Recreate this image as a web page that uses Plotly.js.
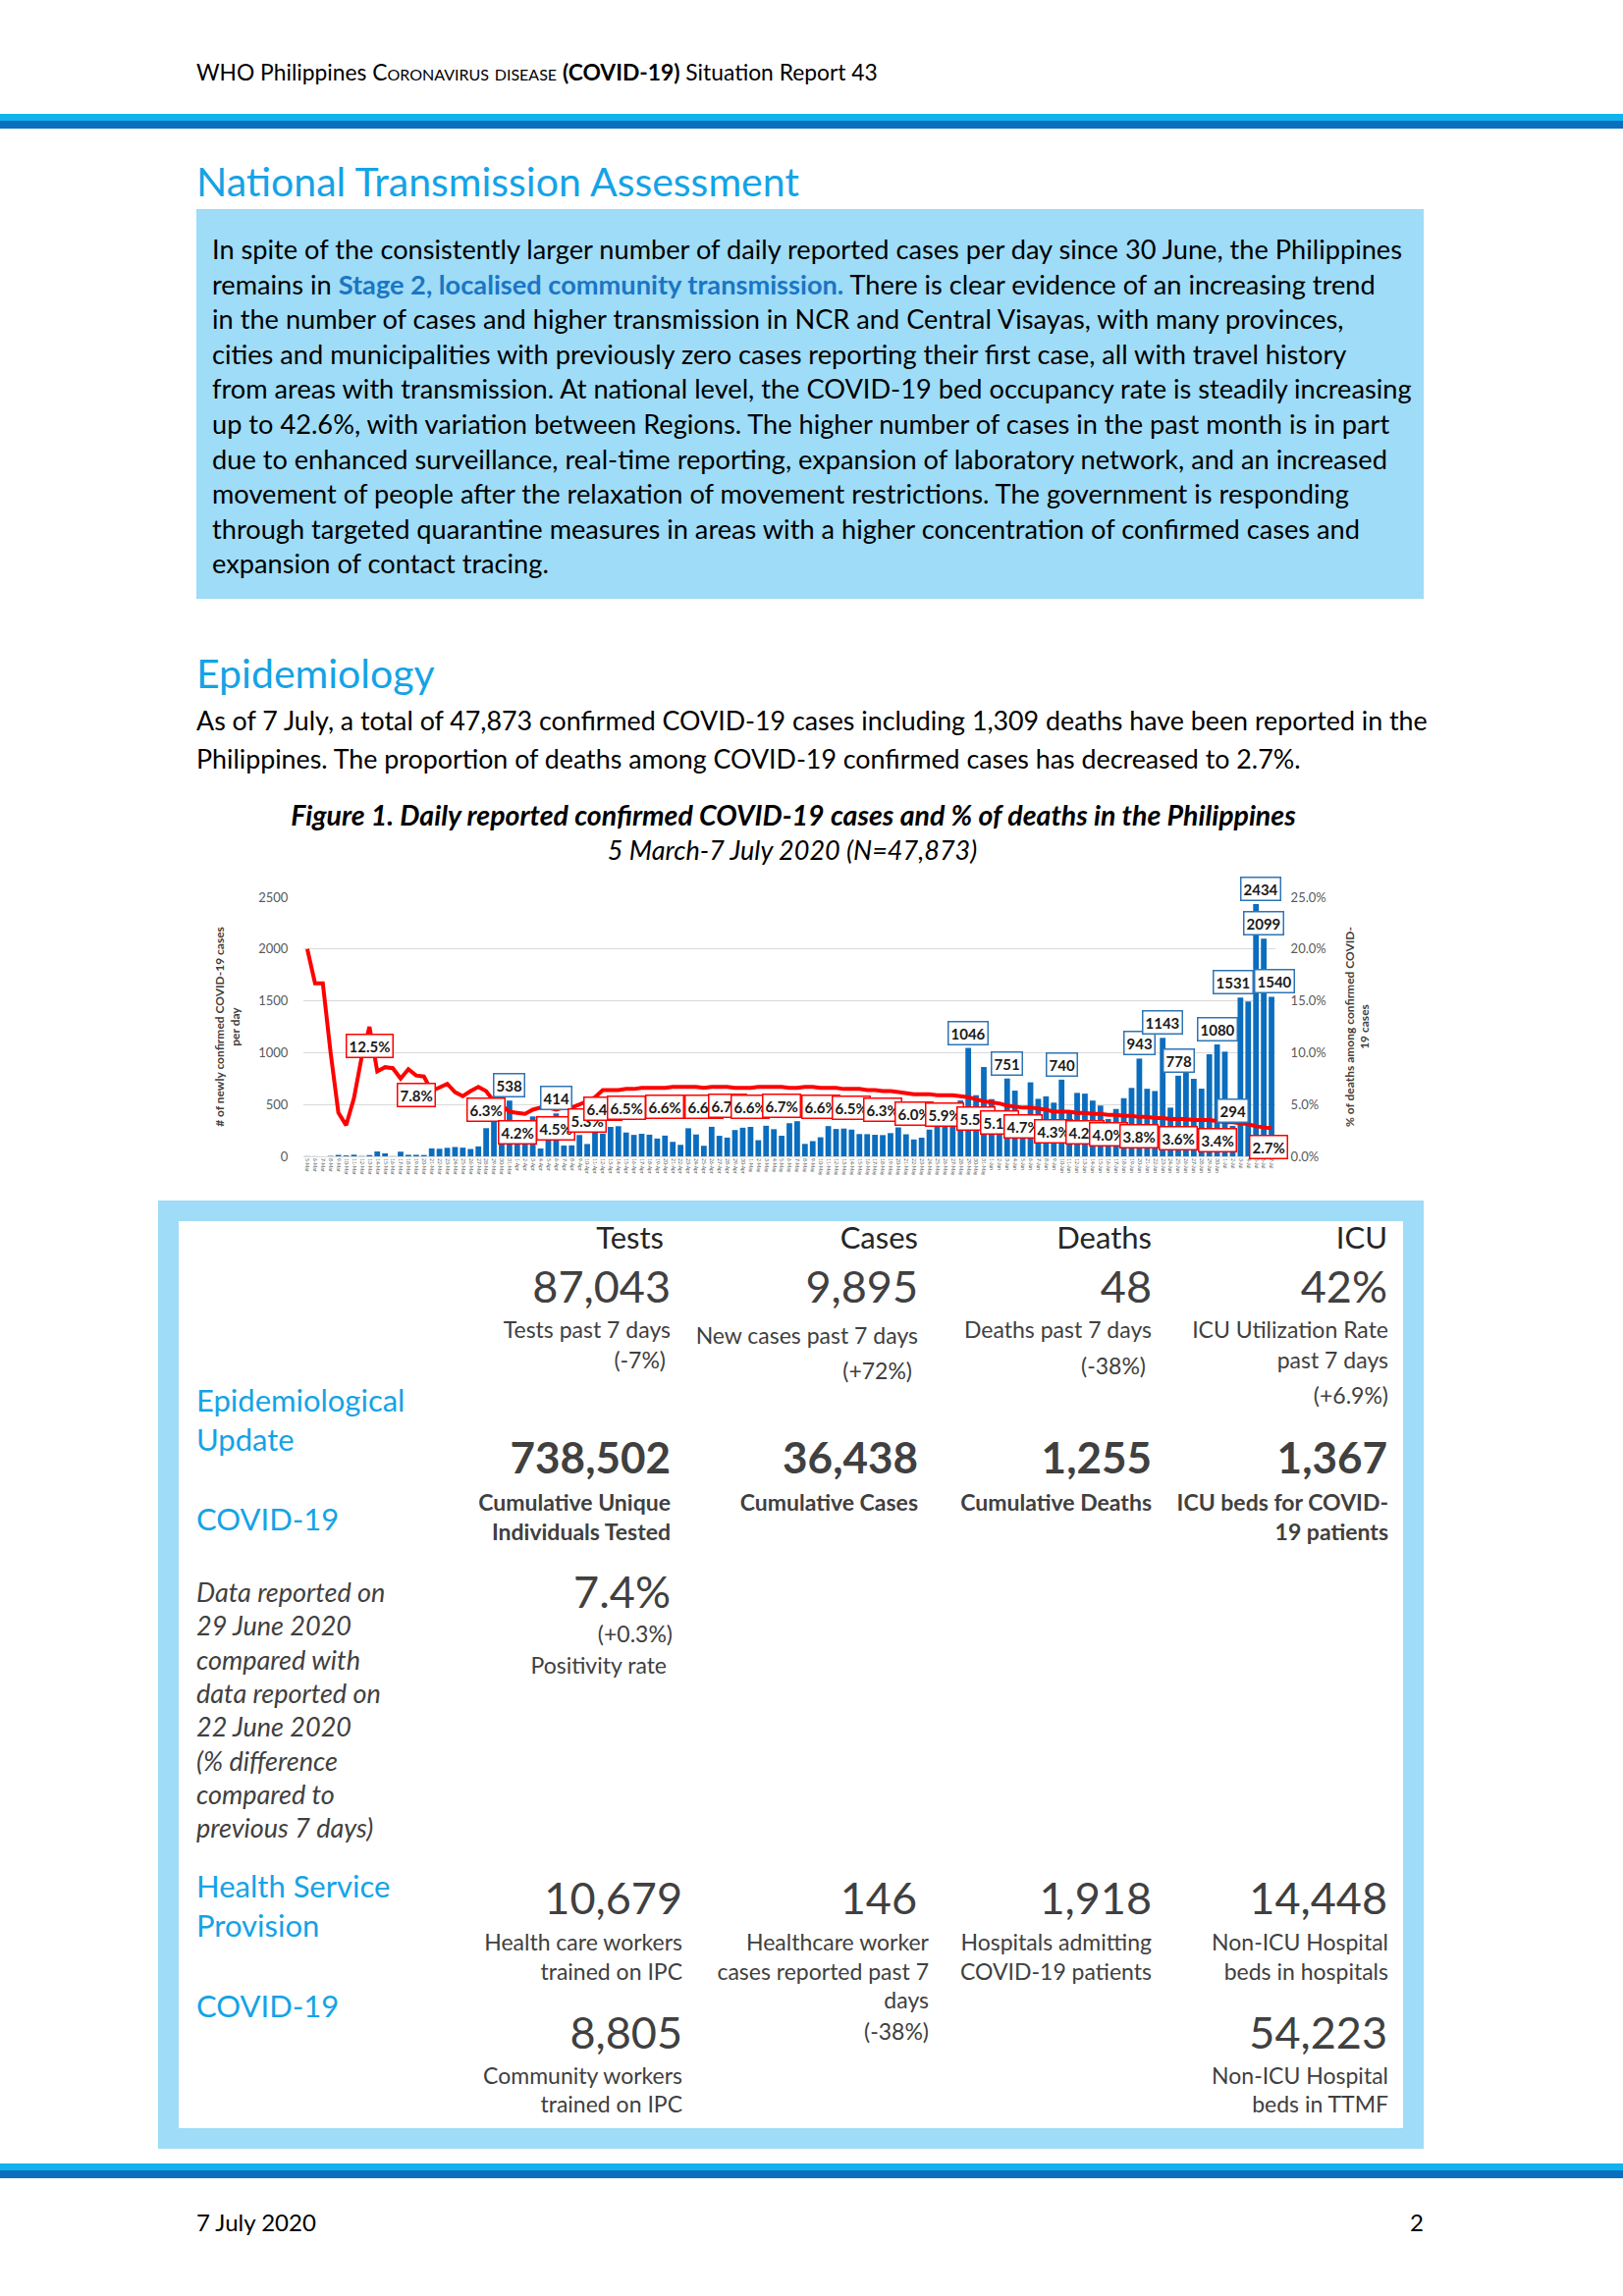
<!DOCTYPE html>
<html>
<head>
<meta charset="utf-8">
<script src="https://cdn.plot.ly/plotly-3.0.1.min.js"></script>
<style>
html,body{margin:0;padding:0;background:#fff;}
#page{position:relative;width:1653px;height:2339px;overflow:hidden;font-family:Lato,'Open Sans',sans-serif;color:#000;}
.a{position:absolute;white-space:nowrap;line-height:1.2;}
.r{text-align:right;}
.hd{font-size:31px;color:#262626;}
.big{font-size:45px;font-weight:400;color:#404040;}
.bigb{font-size:44px;font-weight:700;color:#404040;}
.sub{font-size:23px;color:#404040;}
.subb{font-size:23px;font-weight:700;color:#404040;}
.lbl{font-size:31px;color:#14A3E6;}
.it{font-size:27px;font-style:italic;color:#404040;}
.h1{font-size:41px;color:#14A3E6;font-weight:400;}
.bar1{position:absolute;left:0;width:1653px;}
.p{position:absolute;left:216px;font-size:27.2px;line-height:35.6px;white-space:nowrap;}
</style>
</head>
<body>
<div id="page">
  <div class="a" style="left:200px;top:60px;font-size:22.8px;">WHO Philippines <span style="font-variant:small-caps;">Coronavirus disease</span> <b>(COVID-19)</b> Situation Report 43</div>
  <div class="bar1" style="top:116px;height:7px;background:#12B2EE;"></div>
  <div class="bar1" style="top:123px;height:8px;background:#0A6FBE;"></div>

  <div class="a h1" style="left:200px;top:160px;">National Transmission Assessment</div>
  <div style="position:absolute;left:200px;top:213px;width:1250px;height:397px;background:#9EDCF7;"></div>
  <div class="p" style="top:236px;">In spite of the consistently larger number of daily reported cases per day since 30 June, the Philippines<br>remains in <b style="color:#1B75C4;">Stage 2, localised community transmission.</b> There is clear evidence of an increasing trend<br>in the number of cases and higher transmission in NCR and Central Visayas, with many provinces,<br>cities and municipalities with previously zero cases reporting their first case, all with travel history<br>from areas with transmission. At national level, the COVID-19 bed occupancy rate is steadily increasing<br>up to 42.6%, with variation between Regions. The higher number of cases in the past month is in part<br>due to enhanced surveillance, real-time reporting, expansion of laboratory network, and an increased<br>movement of people after the relaxation of movement restrictions. The government is responding<br>through targeted quarantine measures in areas with a higher concentration of confirmed cases and<br>expansion of contact tracing.</div>

  <div class="a h1" style="left:200px;top:661px;">Epidemiology</div>
  <div class="p" style="left:200px;top:715px;line-height:39px;font-size:26.8px;">As of 7 July, a total of 47,873 confirmed COVID-19 cases including 1,309 deaths have been reported in the<br>Philippines. The proportion of deaths among COVID-19 confirmed cases has decreased to 2.7%.</div>

  <div class="a" style="left:0;width:1616px;text-align:center;top:813px;font-size:28.5px;font-weight:700;font-style:italic;">Figure 1. Daily reported confirmed COVID-19 cases and % of deaths in the Philippines</div>
  <div class="a" style="left:0;width:1614px;text-align:center;top:850px;font-size:27px;font-style:italic;">5 March-7 July 2020 (N=47,873)</div>

  <div id="chart" style="position:absolute;left:200px;top:885px;width:1230px;height:335px;"></div>

  <div style="position:absolute;left:161px;top:1223px;width:1289px;height:966px;border:21px solid #9EDCF7;box-sizing:border-box;"></div>

  <div class="a r hd" style="right:977px;top:1242px;">Tests</div>
  <div class="a r hd" style="right:718px;top:1242px;">Cases</div>
  <div class="a r hd" style="right:480px;top:1242px;">Deaths</div>
  <div class="a r hd" style="right:240px;top:1242px;">ICU</div>

  <div class="a r big" style="right:970px;top:1283px;">87,043</div>
  <div class="a r big" style="right:718px;top:1283px;">9,895</div>
  <div class="a r big" style="right:480px;top:1283px;">48</div>
  <div class="a r big" style="right:240px;top:1283px;">42%</div>

  <div class="a r sub" style="right:970px;top:1341px;">Tests past 7 days</div>
  <div class="a r sub" style="right:975px;top:1372px;">(-7%)</div>
  <div class="a r sub" style="right:718px;top:1347px;">New cases past 7 days</div>
  <div class="a r sub" style="right:724px;top:1383px;">(+72%)</div>
  <div class="a r sub" style="right:480px;top:1341px;">Deaths past 7 days</div>
  <div class="a r sub" style="right:486px;top:1378px;">(-38%)</div>
  <div class="a r sub" style="right:239px;top:1341px;">ICU Utilization Rate</div>
  <div class="a r sub" style="right:239px;top:1372px;">past 7 days</div>
  <div class="a r sub" style="right:239px;top:1408px;">(+6.9%)</div>

  <div class="a r bigb" style="right:970px;top:1458px;">738,502</div>
  <div class="a r bigb" style="right:718px;top:1458px;">36,438</div>
  <div class="a r bigb" style="right:480px;top:1458px;">1,255</div>
  <div class="a r bigb" style="right:240px;top:1458px;">1,367</div>

  <div class="a r subb" style="right:970px;top:1517px;">Cumulative Unique</div>
  <div class="a r subb" style="right:970px;top:1547px;">Individuals Tested</div>
  <div class="a r subb" style="right:718px;top:1517px;">Cumulative Cases</div>
  <div class="a r subb" style="right:480px;top:1517px;">Cumulative Deaths</div>
  <div class="a r subb" style="right:239px;top:1517px;">ICU beds for COVID-</div>
  <div class="a r subb" style="right:239px;top:1547px;">19 patients</div>

  <div class="a r big" style="right:970px;top:1594px;">7.4%</div>
  <div class="a r sub" style="right:968px;top:1651px;">(+0.3%)</div>
  <div class="a r sub" style="right:974px;top:1683px;">Positivity rate</div>

  <div class="a lbl" style="left:200px;top:1408px;">Epidemiological</div>
  <div class="a lbl" style="left:200px;top:1448px;">Update</div>
  <div class="a lbl" style="left:200px;top:1529px;">COVID-19</div>

  <div class="a it" style="left:200px;top:1606px;">Data reported on</div>
  <div class="a it" style="left:200px;top:1640px;">29 June 2020</div>
  <div class="a it" style="left:200px;top:1675px;">compared with</div>
  <div class="a it" style="left:200px;top:1709px;">data reported on</div>
  <div class="a it" style="left:200px;top:1743px;">22 June 2020</div>
  <div class="a it" style="left:200px;top:1778px;">(% difference</div>
  <div class="a it" style="left:200px;top:1812px;">compared to</div>
  <div class="a it" style="left:200px;top:1846px;">previous 7 days)</div>

  <div class="a lbl" style="left:200px;top:1903px;">Health Service</div>
  <div class="a lbl" style="left:200px;top:1943px;">Provision</div>
  <div class="a lbl" style="left:200px;top:2025px;">COVID-19</div>

  <div class="a r big" style="right:958px;top:1906px;">10,679</div>
  <div class="a r big" style="right:719px;top:1906px;">146</div>
  <div class="a r big" style="right:480px;top:1906px;">1,918</div>
  <div class="a r big" style="right:240px;top:1906px;">14,448</div>

  <div class="a r sub" style="right:958px;top:1965px;">Health care workers</div>
  <div class="a r sub" style="right:958px;top:1995px;">trained on IPC</div>
  <div class="a r sub" style="right:707px;top:1965px;">Healthcare worker</div>
  <div class="a r sub" style="right:707px;top:1995px;">cases reported past 7</div>
  <div class="a r sub" style="right:707px;top:2024px;">days</div>
  <div class="a r sub" style="right:707px;top:2056px;">(-38%)</div>
  <div class="a r sub" style="right:480px;top:1965px;">Hospitals admitting</div>
  <div class="a r sub" style="right:480px;top:1995px;">COVID-19 patients</div>
  <div class="a r sub" style="right:239px;top:1965px;">Non-ICU Hospital</div>
  <div class="a r sub" style="right:239px;top:1995px;">beds in hospitals</div>

  <div class="a r big" style="right:958px;top:2043px;">8,805</div>
  <div class="a r big" style="right:240px;top:2043px;">54,223</div>
  <div class="a r sub" style="right:958px;top:2101px;">Community workers</div>
  <div class="a r sub" style="right:958px;top:2130px;">trained on IPC</div>
  <div class="a r sub" style="right:239px;top:2101px;">Non-ICU Hospital</div>
  <div class="a r sub" style="right:239px;top:2130px;">beds in TTMF</div>

  <div class="bar1" style="top:2204px;height:7px;background:#12B2EE;"></div>
  <div class="bar1" style="top:2211px;height:8px;background:#0A6FBE;"></div>

  <div class="a" style="left:200px;top:2250px;font-size:24px;">7 July 2020</div>
  <div class="a r" style="right:203px;top:2250px;font-size:24px;">2</div>
</div>

<script>
const categories = [
 '5-Mar','6-Mar','7-Mar','8-Mar','9-Mar','10-Mar','11-Mar','12-Mar','13-Mar','14-Mar','15-Mar','16-Mar','17-Mar','18-Mar','19-Mar','20-Mar','21-Mar','22-Mar','23-Mar','24-Mar','25-Mar','26-Mar','27-Mar','28-Mar','29-Mar','30-Mar','31-Mar',
 '1-Apr','2-Apr','3-Apr','4-Apr','5-Apr','6-Apr','7-Apr','8-Apr','9-Apr','10-Apr','11-Apr','12-Apr','13-Apr','14-Apr','15-Apr','16-Apr','17-Apr','18-Apr','19-Apr','20-Apr','21-Apr','22-Apr','23-Apr','24-Apr','25-Apr','26-Apr','27-Apr','28-Apr','29-Apr','30-Apr',
 '1-May','2-May','3-May','4-May','5-May','6-May','7-May','8-May','9-May','10-May','11-May','12-May','13-May','14-May','15-May','16-May','17-May','18-May','19-May','20-May','21-May','22-May','23-May','24-May','25-May','26-May','27-May','28-May','29-May','30-May','31-May',
 '1-Jun','2-Jun','3-Jun','4-Jun','5-Jun','6-Jun','7-Jun','8-Jun','9-Jun','10-Jun','11-Jun','12-Jun','13-Jun','14-Jun','15-Jun','16-Jun','17-Jun','18-Jun','19-Jun','20-Jun','21-Jun','22-Jun','23-Jun','24-Jun','25-Jun','26-Jun','27-Jun','28-Jun','29-Jun','30-Jun',
 '1-Jul','2-Jul','3-Jul','4-Jul','5-Jul','6-Jul','7-Jul'
];

const newCases = [
 2,1,0,4,14,9,16,3,12,47,29,2,45,15,15,13,77,73,82,90,84,71,96,272,343,128,538,
 227,322,385,76,152,414,104,106,206,119,233,220,284,291,230,207,218,209,172,200,140,111,271,211,102,285,198,181,254,276,
 284,156,295,262,199,320,339,120,147,184,292,264,268,258,215,214,208,205,224,279,213,163,180,258,284,350,380,539,1046,590,862,
 552,359,751,634,244,714,555,579,518,740,443,612,605,538,490,361,457,561,660,943,652,630,1143,470,778,841,748,653,985,1080,
 1010,294,1531,1494,2434,2099,1540
];

const deathPct = [
 20.0,16.7,16.7,10.0,4.2,3.0,5.6,9.6,12.5,8.2,8.6,8.5,7.5,8.4,7.8,7.7,6.3,6.6,7.0,6.2,5.8,6.3,6.7,6.3,5.3,4.9,4.3,
 4.2,4.1,4.5,4.7,4.7,4.5,4.7,4.7,5.0,5.3,5.7,6.4,6.4,6.4,6.5,6.5,6.6,6.6,6.6,6.6,6.7,6.7,6.7,6.7,6.6,6.7,6.7,6.7,6.6,6.6,
 6.6,6.7,6.7,6.7,6.7,6.6,6.6,6.7,6.7,6.6,6.6,6.6,6.5,6.5,6.5,6.4,6.4,6.3,6.3,6.2,6.1,6.0,6.0,6.0,5.9,5.9,5.9,5.8,5.7,5.5,5.3,
 5.2,5.1,4.9,4.8,4.7,4.7,4.6,4.5,4.3,4.3,4.3,4.2,4.2,4.1,4.1,4.0,4.0,3.9,3.9,3.8,3.8,3.7,3.7,3.6,3.6,3.6,3.5,3.5,3.5,3.4,
 3.3,3.3,3.2,3.1,2.9,2.8,2.7
];

const casesLabelIdx = [26,32,85,90,97,107,110,112,117,119,120,122,123,124];
const pctLabelIdx = [8,14,23,27,32,36,38,41,46,51,54,57,61,66,70,74,78,82,86,89,92,96,100,103,107,112,117,124];

const casesLabelNudge = {120:-7, 122:5, 124:3};
const pctLabelNudge = {124:-3};

const annotations = [];
casesLabelIdx.forEach(i => {
  annotations.push({
    x: categories[i], y: newCases[i], xref: 'x', yref: 'y',
    text: '<b>' + newCases[i] + '</b>', showarrow: false,
    yanchor: 'bottom', yshift: 3, xshift: casesLabelNudge[i] || 0,
    bgcolor: '#FFFFFF', bordercolor: '#2E75B6', borderwidth: 1.5, borderpad: 2,
    font: {family: 'Lato, sans-serif', size: 15, color: '#1a1a1a'}
  });
});
pctLabelIdx.forEach(i => {
  annotations.push({
    x: categories[i], y: deathPct[i], xref: 'x', yref: 'y2',
    text: '<b>' + deathPct[i].toFixed(1) + '%</b>', showarrow: false,
    yanchor: 'top', yshift: -7, xshift: pctLabelNudge[i] || 0,
    bgcolor: '#FFFFFF', bordercolor: '#FF0000', borderwidth: 1.5, borderpad: 2,
    font: {family: 'Lato, sans-serif', size: 15, color: '#1a1a1a'}
  });
});

const traces = [
  {type: 'bar', x: categories, y: newCases, marker: {color: '#0B6DBE'}, yaxis: 'y', hoverinfo: 'skip'},
  {type: 'scatter', mode: 'lines', x: categories, y: deathPct, yaxis: 'y2',
   line: {color: '#FF0000', width: 4}, hoverinfo: 'skip'}
];

const layout = {
  width: 1230, height: 335,
  margin: {l: 109, r: 131, t: 29, b: 42},
  paper_bgcolor: '#FFFFFF', plot_bgcolor: '#FFFFFF',
  showlegend: false, bargap: 0.27,
  font: {family: 'Lato, sans-serif', color: '#595959'},
  xaxis: {
    type: 'category', range: [-0.5, 124.5], tickmode: 'linear', dtick: 1,
    tickangle: 90, tickfont: {size: 5, color: '#595959'},
    showline: true, linecolor: '#D9D9D9', linewidth: 1, showgrid: false,
    ticks: '', automargin: false
  },
  yaxis: {
    range: [0, 2500], dtick: 500, showgrid: true, gridcolor: '#D9D9D9', gridwidth: 1,
    zeroline: false, showline: false, ticks: 'outside', ticklen: 12, tickcolor: 'rgba(0,0,0,0)',
    tickfont: {size: 13, color: '#595959'}, automargin: false,
    title: {text: '<b># of newly confirmed COVID-19 cases</b><br><b>per day</b>', font: {size: 12, color: '#404040'}, standoff: 16}
  },
  yaxis2: {
    overlaying: 'y', side: 'right', range: [0, 25], dtick: 5, ticksuffix: '%', tickformat: '.1f',
    showgrid: false, zeroline: false, showline: false, ticks: 'outside', ticklen: 12, tickcolor: 'rgba(0,0,0,0)',
    tickfont: {size: 13, color: '#595959'}, automargin: false,
    title: {text: '<b>% of deaths among confirmed COVID-</b><br><b>19 cases</b>', font: {size: 12, color: '#404040'}, standoff: 20}
  },
  annotations: annotations
};

Plotly.newPlot('chart', traces, layout, {staticPlot: true, displayModeBar: false});
</script>
</body>
</html>
